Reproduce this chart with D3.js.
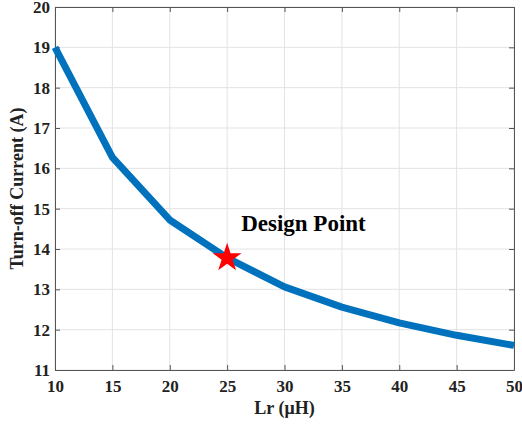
<!DOCTYPE html>
<html>
<head>
<meta charset="utf-8">
<script src="https://cdn.jsdelivr.net/npm/d3@7"></script>
<style>
body { margin: 0; background: #fff; }
text { font-family: "Liberation Serif", "Times New Roman", serif; font-weight: bold; }
</style>
</head>
<body>
<script>
var lr = [10, 15, 20, 25, 30, 35, 40, 45, 50];
var current = [19, 16.27, 14.72, 13.78, 13.06, 12.56, 12.17, 11.86, 11.61];
var xTicks = [10, 15, 20, 25, 30, 35, 40, 45, 50];
var yTicks = [11, 12, 13, 14, 15, 16, 17, 18, 19, 20];
var design = { x: 25, y: 13.78, label: "Design Point" };

var W = 522, H = 425;
var mLeft = 55, mRight = 514, mTop = 7, mBottom = 370;

var svg = d3.select("body").append("svg")
    .attr("width", W)
    .attr("height", H);

var x = d3.scaleLinear().domain([10, 50]).range([mLeft, mRight]);
var y = d3.scaleLinear().domain([11, 20]).range([mBottom, mTop]);

// grid
svg.append("g").selectAll("line")
    .data(xTicks).enter().append("line")
    .attr("x1", d => x(d)).attr("x2", d => x(d))
    .attr("y1", mTop).attr("y2", mBottom)
    .style("stroke", "#e3e3e3").style("stroke-width", 1);
svg.append("g").selectAll("line")
    .data(yTicks).enter().append("line")
    .attr("y1", d => y(d)).attr("y2", d => y(d))
    .attr("x1", mLeft).attr("x2", mRight)
    .style("stroke", "#e3e3e3").style("stroke-width", 1);

// axes
svg.append("g")
    .attr("transform", "translate(0," + mBottom + ")")
    .call(d3.axisBottom(x).tickValues(xTicks).tickSizeInner(-5).tickSizeOuter(0).tickPadding(10));
svg.append("g")
    .attr("transform", "translate(" + mLeft + ",0)")
    .call(d3.axisLeft(y).tickValues(yTicks).tickSizeInner(-5).tickSizeOuter(0).tickPadding(5));
svg.append("g")
    .attr("transform", "translate(0," + mTop + ")")
    .call(d3.axisTop(x).tickValues(xTicks).tickSizeInner(-5).tickSizeOuter(0).tickFormat(""));
svg.append("g")
    .attr("transform", "translate(" + mRight + ",0)")
    .call(d3.axisRight(y).tickValues(yTicks).tickSizeInner(-5).tickSizeOuter(0).tickFormat(""));

svg.selectAll(".domain").style("stroke", "#555").style("stroke-width", 1);
svg.selectAll(".tick line").style("stroke", "#555");
svg.selectAll(".tick text")
    .style("font-family", "'Liberation Serif', serif")
    .style("font-weight", "bold")
    .style("font-size", "17px")
    .style("fill", "#222");

// line
var line = d3.line()
    .x((d, i) => x(lr[i]))
    .y(d => y(d));
svg.append("path")
    .datum(current)
    .attr("d", line)
    .style("fill", "none")
    .style("stroke", "#0072BD")
    .style("stroke-width", 7)
    .style("stroke-linejoin", "round");

// star
svg.append("path")
    .attr("d", d3.symbol().type(d3.symbolStar).size(260)())
    .attr("transform", "translate(" + x(design.x) + "," + y(design.y) + ")")
    .style("fill", "#ff0000");

svg.append("text")
    .attr("x", x(design.x) + 14)
    .attr("y", y(design.y) - 27)
    .style("font-size", "23px")
    .style("fill", "#000")
    .text(design.label);

// labels
svg.append("text")
    .attr("x", (mLeft + mRight) / 2)
    .attr("y", 414)
    .attr("text-anchor", "middle")
    .style("font-size", "18px")
    .style("fill", "#222")
    .text("Lr (μH)");

svg.append("text")
    .attr("transform", "translate(23," + (mTop + mBottom) / 2 + ") rotate(-90)")
    .attr("text-anchor", "middle")
    .style("font-size", "18px")
    .style("fill", "#222")
    .text("Turn-off Current (A)");
</script>
</body>
</html>
